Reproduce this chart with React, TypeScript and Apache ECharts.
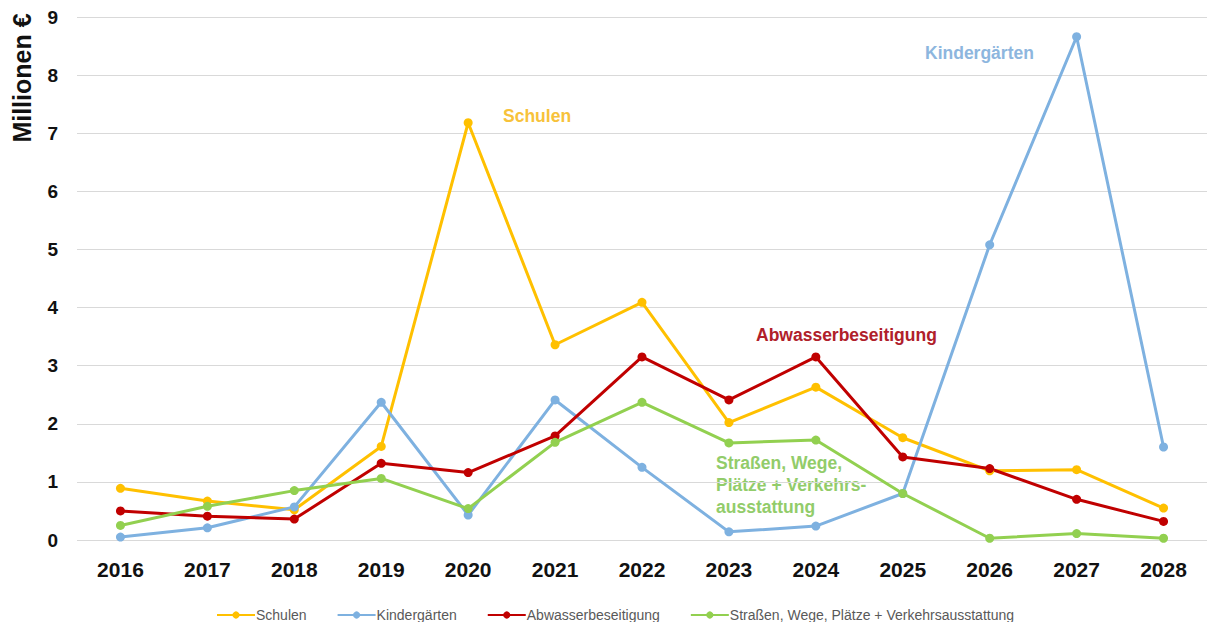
import React, { useEffect, useRef } from "react";
import * as echarts from "echarts";

const years = ["2016", "2017", "2018", "2019", "2020", "2021", "2022", "2023", "2024", "2025", "2026", "2027", "2028"];
const schulen = [0.89, 0.67, 0.52, 1.61, 7.18, 3.36, 4.09, 2.02, 2.63, 1.76, 1.19, 1.21, 0.55];
const kindergaerten = [0.05, 0.21, 0.57, 2.37, 0.43, 2.41, 1.25, 0.14, 0.24, 0.8, 5.08, 8.66, 1.6];
const abwasser = [0.5, 0.41, 0.36, 1.32, 1.16, 1.79, 3.15, 2.41, 3.15, 1.43, 1.23, 0.7, 0.32];
const strassen = [0.25, 0.58, 0.85, 1.06, 0.54, 1.68, 2.37, 1.67, 1.72, 0.8, 0.03, 0.11, 0.03];
const yTicks = [0, 1, 2, 3, 4, 5, 6, 7, 8, 9];

const COLORS = {
  schulen: "#FFC000",
  kinder: "#7EB1E0",
  abwasser: "#C00000",
  strassen: "#92D050",
};

const FONT = "Liberation Sans, Arial, sans-serif";

export default function App() {
  const ref = useRef<HTMLDivElement>(null);
  useEffect(() => {
    if (!ref.current) return;
    const chart = echarts.init(ref.current, null, { renderer: "svg" });
    const mk = (name: string, data: number[], color: string) => ({
      name,
      type: "line",
      data,
      symbol: "circle",
      symbolSize: 9,
      lineStyle: { width: 3, color },
      itemStyle: { color },
      z: 3,
    });
    chart.setOption({
      animation: false,
      backgroundColor: "#ffffff",
      textStyle: { fontFamily: FONT },
      grid: { left: 77, right: 0, top: 17, bottom: 82 },
      xAxis: {
        type: "category",
        data: years,
        boundaryGap: true,
        axisLine: { show: false },
        axisTick: { show: false },
        axisLabel: { fontSize: 21, fontWeight: "bold", color: "#111", margin: 19 },
      },
      yAxis: {
        type: "value",
        min: yTicks[0],
        max: yTicks[yTicks.length - 1],
        interval: 1,
        axisLine: { show: false },
        axisTick: { show: false },
        axisLabel: { fontSize: 19, fontWeight: "bold", color: "#111", margin: 19 },
        splitLine: { lineStyle: { color: "#d9d9d9", width: 1 } },
      },
      legend: {
        left: 211,
        top: 603,
        itemGap: 30,
        itemWidth: 38,
        itemHeight: 9,
        textStyle: { fontSize: 14, color: "#595959", padding: [0, 0, 0, -4] },
        data: ["Schulen", "Kindergärten", "Abwasserbeseitigung", "Straßen, Wege, Plätze + Verkehrsausstattung"],
      },
      graphic: [
        {
          type: "text",
          x: 22,
          y: 78,
          rotation: Math.PI / 2,
          style: {
            text: "Millionen €",
            fontSize: 25,
            fontWeight: "bold",
            fill: "#111",
            fontFamily: FONT,
            align: "center",
            verticalAlign: "middle",
          },
        },
        {
          type: "text",
          x: 503,
          y: 107,
          style: { text: "Schulen", fontSize: 17.5, fontWeight: "bold", fill: "#F7C23A", fontFamily: FONT },
        },
        {
          type: "text",
          x: 925,
          y: 44,
          style: { text: "Kindergärten", fontSize: 17.5, fontWeight: "bold", fill: "#8DB6DE", fontFamily: FONT },
        },
        {
          type: "text",
          x: 756,
          y: 326,
          style: { text: "Abwasserbeseitigung", fontSize: 17.5, fontWeight: "bold", fill: "#B0202A", fontFamily: FONT },
        },
        {
          type: "text",
          x: 716,
          y: 452,
          style: {
            text: "Straßen, Wege,\nPlätze + Verkehrs-\nausstattung",
            fontSize: 17.5,
            lineHeight: 22,
            fontWeight: "bold",
            fill: "#92CC6A",
            fontFamily: FONT,
          },
        },
      ],
      series: [
        mk("Schulen", schulen, COLORS.schulen),
        mk("Kindergärten", kindergaerten, COLORS.kinder),
        mk("Abwasserbeseitigung", abwasser, COLORS.abwasser),
        mk("Straßen, Wege, Plätze + Verkehrsausstattung", strassen, COLORS.strassen),
      ],
    });
    return () => chart.dispose();
  }, []);
  return (
    <div
      ref={ref}
      style={{ position: "fixed", left: 0, top: 0, width: 1207, height: 622, background: "#fff" }}
    />
  );
}
